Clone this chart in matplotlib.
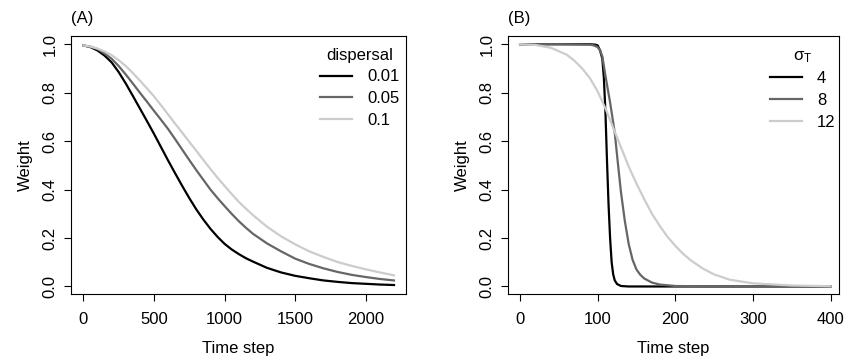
import matplotlib
matplotlib.use("Agg")
import matplotlib.pyplot as plt

plt.rcParams["font.family"] = ["Liberation Sans", "DejaVu Sans"]
plt.rcParams["mathtext.fontset"] = "custom"
plt.rcParams["mathtext.rm"] = "Liberation Sans"
plt.rcParams["mathtext.it"] = "Liberation Sans:italic"

# panel A: weight vs time step for three dispersal rates
time_a = [0, 50, 100, 150, 200, 250, 300, 350, 400, 450, 500, 550, 600, 650,
          700, 750, 800, 850, 900, 950, 1000, 1050, 1100, 1150, 1200,
          1300, 1400, 1500, 1600, 1700, 1800, 1900, 2000, 2100, 2200]
disp_001 = [0.995, 0.988, 0.974, 0.953, 0.925, 0.885, 0.838, 0.787, 0.735,
            0.683, 0.63, 0.575, 0.52, 0.467, 0.415, 0.365, 0.318, 0.276,
            0.238, 0.205, 0.176, 0.153, 0.134, 0.117, 0.103,
            0.077, 0.058, 0.044, 0.034, 0.025, 0.019, 0.014, 0.011, 0.008,
            0.006]
disp_005 = [0.995, 0.99, 0.98, 0.962, 0.94, 0.91, 0.875, 0.838, 0.80, 0.763,
            0.725, 0.688, 0.65, 0.608, 0.565, 0.522, 0.48, 0.44, 0.40, 0.365,
            0.332, 0.30, 0.27, 0.243, 0.218,
            0.178, 0.145, 0.115, 0.093, 0.075, 0.06, 0.048, 0.039, 0.031,
            0.025]
disp_01 = [0.995, 0.99, 0.982, 0.97, 0.955, 0.934, 0.91, 0.881, 0.85, 0.818,
           0.785, 0.748, 0.71, 0.672, 0.635, 0.597, 0.56, 0.522, 0.485, 0.449,
           0.415, 0.382, 0.35, 0.322, 0.295,
           0.247, 0.207, 0.174, 0.145, 0.122, 0.101, 0.085, 0.071, 0.058,
           0.046]
disp_labels = ["0.01", "0.05", "0.1"]

# panel B: weight vs time step for three sigma_T values
sig4_x = [0, 50, 90, 97, 100, 103, 106, 108, 110, 112, 114, 116, 118, 120,
          122, 125, 130, 140, 200, 400]
sig4_y = [1.0, 1.0, 1.0, 0.998, 0.995, 0.975, 0.94, 0.86, 0.72, 0.52, 0.34,
          0.20, 0.10, 0.05, 0.025, 0.01, 0.002, 0.0, 0.0, 0.0]
sig8_x = [0, 50, 90, 95, 100, 103, 106, 110, 116, 122, 126, 130, 135, 140,
          145, 150, 155, 160, 170, 180, 200, 250, 400]
sig8_y = [1.0, 1.0, 0.998, 0.995, 0.988, 0.975, 0.95, 0.87, 0.76, 0.635,
          0.51, 0.39, 0.27, 0.175, 0.11, 0.07, 0.048, 0.033, 0.016, 0.008,
          0.002, 0.0, 0.0]
sig12_x = [0, 20, 40, 60, 70, 80, 90, 100, 110, 120, 130, 140, 150, 160, 170,
           180, 190, 200, 210, 220, 235, 250, 270, 300, 350, 400]
sig12_y = [1.0, 0.997, 0.985, 0.957, 0.932, 0.90, 0.86, 0.805, 0.735, 0.655,
           0.575, 0.495, 0.425, 0.36, 0.30, 0.25, 0.205, 0.168, 0.135, 0.108,
           0.075, 0.05, 0.028, 0.013, 0.004, 0.001]
sig_labels = ["4", "8", "12"]

colors = ["#000000", "#666666", "#cccccc"]


def style_axis(ax, xticks):
    ax.set_xticks(xticks)
    ax.set_yticks([0.0, 0.2, 0.4, 0.6, 0.8, 1.0])
    ax.set_yticklabels(["0.0", "0.2", "0.4", "0.6", "0.8", "1.0"],
                       rotation=90, va="center")
    ax.tick_params(direction="out", length=5, width=0.8, labelsize=12)
    ax.tick_params(axis="x", pad=8)
    ax.tick_params(axis="y", pad=4.5)
    for s in ax.spines.values():
        s.set_linewidth(0.8)
    ax.set_xlabel("Time step", fontsize=12, labelpad=10)
    ax.set_ylabel("Weight", fontsize=12, labelpad=7)


def main():
    fig = plt.figure(figsize=(8.47, 3.58), dpi=100)
    ax1 = fig.add_axes([0.0838, 0.1788, 0.3955, 0.7207])
    ax2 = fig.add_axes([0.5998, 0.1788, 0.3908, 0.7207])

    for vals, lab, c in zip([disp_001, disp_005, disp_01], disp_labels, colors):
        ax1.plot(time_a, vals, color=c, lw=1.6, label=lab)
    ax1.set_xlim(-88, 2285)
    ax1.set_ylim(-0.031, 1.034)
    style_axis(ax1, [0, 500, 1000, 1500, 2000])
    ax1.legend(title="dispersal", loc="upper right", bbox_to_anchor=(1.0, 0.98),
               frameon=False, fontsize=12, title_fontsize=12, handlelength=1.9,
               handletextpad=0.9, labelspacing=0.4, borderaxespad=0.0)
    ax1.text(0.0, 1.04, "(A)", transform=ax1.transAxes, fontsize=12,
             ha="left", va="bottom")

    for xs, ys, lab, c in zip([sig4_x, sig8_x, sig12_x], [sig4_y, sig8_y, sig12_y],
                              sig_labels, colors):
        ax2.plot(xs, ys, color=c, lw=1.6, label=lab)
    ax2.set_xlim(-15.5, 411)
    ax2.set_ylim(-0.031, 1.034)
    style_axis(ax2, [0, 100, 200, 300, 400])
    ax2.legend(title=r"$\mathrm{\sigma_T}$", loc="upper right",
               bbox_to_anchor=(1.01, 0.98), frameon=False, fontsize=12,
               title_fontsize=12, handlelength=1.9, handletextpad=0.9,
               labelspacing=0.4, borderaxespad=0.0)
    ax2.text(0.0, 1.04, "(B)", transform=ax2.transAxes, fontsize=12,
             ha="left", va="bottom")

    fig.savefig("out.png", dpi=100)


if __name__ == "__main__":
    main()
